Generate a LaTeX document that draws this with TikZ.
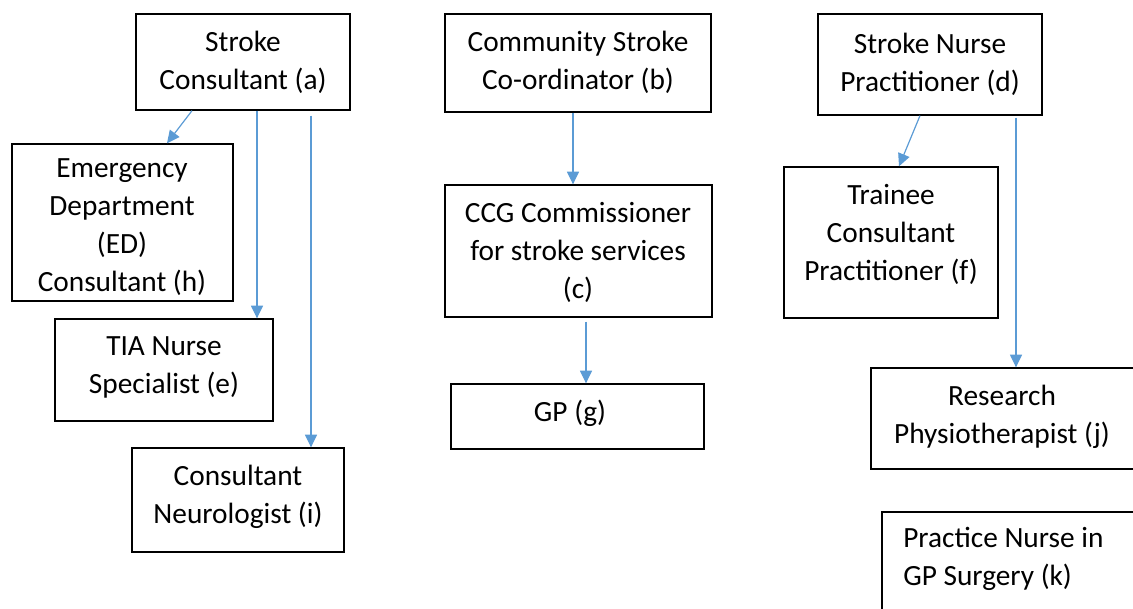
\documentclass[tikz,border=0pt]{standalone}
\usepackage{fontspec}
\setmainfont{Carlito}
\usetikzlibrary{fit,arrows.meta}
\definecolor{linkblue}{HTML}{5B9BD5}
\begin{document}
\begin{tikzpicture}[x=0.75pt,y=-0.75pt,
  box/.style={draw=black,line width=1pt,inner sep=0pt},
  lbl/.style={align=center,inner sep=0pt,font=\fontsize{22}{28.5}\selectfont},
  arr/.style={draw=linkblue,line width=0.9pt,-{Triangle[length=9.5pt,width=9pt]}}]
\clip (0,0) rectangle (1133,608);
% boxes
\node[box,fit={(136,14) (350,110)}] (a) {};
\node[box,fit={(445,14) (711,112)}] (b) {};
\node[box,fit={(818,14) (1042,115)}] (d) {};
\node[box,fit={(12,144) (233,301)}] (h) {};
\node[box,fit={(55,319) (273,421)}] (e) {};
\node[box,fit={(132,448) (344,552)}] (i) {};
\node[box,fit={(445,185) (712,317)}] (c) {};
\node[box,fit={(451,384) (704,449)}] (g) {};
\node[box,fit={(784,167) (998,318)}] (f) {};
\node[box,fit={(871,368) (1136,469)}] (j) {};
\node[box,fit={(882,512) (1150,640)}] (k) {};
% labels
\node[lbl] (ta) at (243,62) {Stroke\\Consultant (a)};
\node[lbl] (tb) at (578,62) {Community Stroke\\Co-ordinator (b)};
\node[lbl] (td) at (930,64.5) {Stroke Nurse\\Practitioner (d)};
\node[lbl] (th) at (122,227) {Emergency\\Department\\(ED)\\Consultant (h)};
\node[lbl] (te) at (164,367) {TIA Nurse\\Specialist (e)};
\node[lbl] (ti) at (238,497) {Consultant\\Neurologist (i)};
\node[lbl] (tc) at (578,252) {CCG Commissioner\\for stroke services\\(c)};
\node[lbl] (tg) at (570,413) {GP (g)};
\node[lbl] (tf) at (891,234) {Trainee\\Consultant\\Practitioner (f)};
\node[lbl] (tj) at (1002,416.5) {Research\\Physiotherapist (j)};
\node[lbl,align=left,anchor=west] (tk) at (903,559) {Practice Nurse in\\GP Surgery (k)};
% connectors
\draw[arr] (a.south -| 192,0) -- (h.north -| 167,0);
\draw[arr] (a.south -| 257,0) -- (e.north -| 257,0);
\draw[arr,shorten <=3.75pt] (a.south -| 311,0) -- (i.north -| 311,0);
\draw[arr] (b.south -| 573,0) -- (c.north -| 573,0);
\draw[arr,shorten <=3pt] (c.south -| 586,0) -- (g.north -| 586,0);
\draw[arr] (d.south -| 920,0) -- (f.north -| 899,0);
\draw[arr,shorten <=1.5pt] (d.south -| 1016,0) -- (j.north -| 1016,0);
\end{tikzpicture}
\end{document}
